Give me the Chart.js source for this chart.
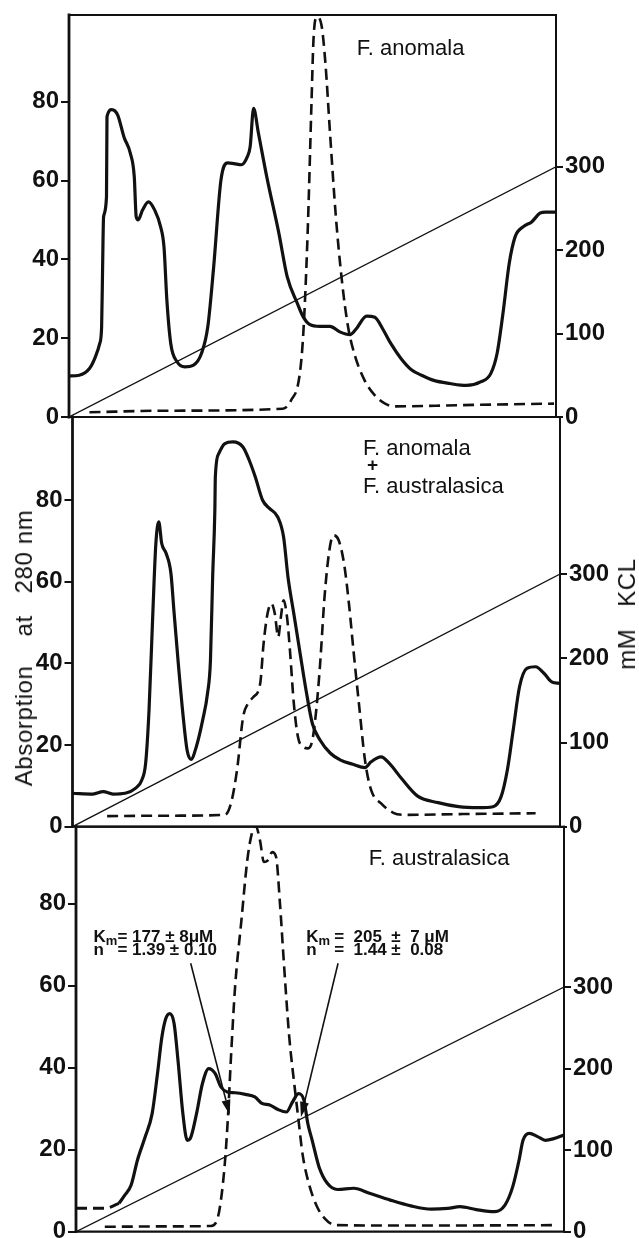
<!DOCTYPE html>
<html>
<head>
<meta charset="utf-8">
<script src="https://cdn.jsdelivr.net/npm/chart.js@4.4.1/dist/chart.umd.min.js"></script>
<style>
  body{margin:0;background:#fff;width:639px;height:1238px;overflow:hidden;position:relative;font-family:"Liberation Sans",Arial,sans-serif;color:#111;}
  canvas{position:absolute;left:0;}
  .vtitle{position:absolute;white-space:pre;font-size:24px;letter-spacing:0.6px;transform:translate(-50%,-50%) rotate(-90deg);}
</style>
</head>
<body>
<canvas id="p1" width="639" height="440" style="top:0px"></canvas>
<canvas id="p2" width="639" height="445" style="top:400px"></canvas>
<canvas id="p3" width="639" height="450" style="top:806px"></canvas>
<div class="vtitle" style="left:24px;top:648px">Absorption    at   280 nm</div>
<div class="vtitle" style="left:627px;top:614px">mM   KCL</div>
<script>
// tick values
const LEFT_TICKS = [0, 20, 40, 60, 80];
const RIGHT_TICKS = [0, 100, 200, 300];

// salt gradient (mM KCl), fraction position 0..100
const GRAD_X = [0, 100];
const GRAD_MM = [0, 300];

// panel 1 : F. anomala
const p1SolidX = [0, 2.1, 4.2, 5.4, 6.3, 6.7, 6.9, 7.1, 7.7, 7.8, 8.8, 10, 11.3, 12.6, 13.4, 13.8, 14.2, 15.1, 16.3, 17.6, 18.8, 19.5, 20.1, 20.9, 22.2, 23.8, 25.5, 27.2, 28.5, 29.7, 31.2, 32.6, 33.9, 35.4, 36.6, 37.2, 37.9, 38.9, 40.6, 43.1, 44.8, 46.9, 48.1, 49.4, 51.5, 53.6, 55.6, 57.7, 59, 61.1, 62.8, 64.4, 66.1, 68.2, 70.3, 72.4, 74.9, 78.2, 81.6, 84.5, 86.6, 87.9, 89.1, 90.4, 91.6, 93.3, 95, 96.7, 97.9, 100];
const p1SolidY = [10.4, 10.6, 12.3, 15.2, 18.6, 22.9, 38, 50.8, 55.9, 76.2, 78, 76.6, 71, 66.9, 61, 50.8, 50, 52.5, 54.6, 52.5, 48.3, 43.2, 29.6, 18.6, 14, 12.7, 13.1, 16.1, 22.9, 38, 60.1, 64.5, 64.3, 64, 66, 68.6, 78.3, 72, 61, 46.6, 35.6, 28.8, 25.4, 23.5, 23, 23, 21.6, 20.9, 22.4, 25.6, 25.3, 22.4, 18.6, 14.8, 12, 10.6, 9.3, 8.5, 8, 8.9, 11, 16.1, 26.2, 39, 45.7, 48.3, 49.5, 51.7, 52, 52];
const p1DashX = [4.2, 20, 43.9, 45.6, 47.3, 48.1, 49, 49.8, 50.2, 50.9, 51.9, 52.7, 53.6, 54.8, 56.1, 57.3, 58.6, 60.7, 62.8, 64.9, 66.9, 80, 99.6];
const p1DashY = [1.2, 1.6, 2.1, 4.2, 10.2, 21, 46.6, 80, 95.7, 101.5, 99, 89, 72, 50.8, 33.9, 22.9, 16, 9.3, 5.5, 3.4, 2.7, 3, 3.4];

// panel 2 : F. anomala + F. australasica
const p2SolidX = [0, 4.2, 6.3, 8.3, 10.8, 12.9, 14.2, 15, 15.7, 16.5, 17.1, 17.7, 18.3, 19.2, 20.2, 20.8, 21.7, 22.7, 23.5, 24.3, 25.4, 26.7, 27.7, 28.3, 28.75, 29.2, 29.3, 30, 31.25, 32.9, 35, 36.25, 37.5, 39, 40.4, 42.1, 43.3, 44.2, 45.4, 46.7, 47.9, 49.2, 50.8, 52.9, 55, 57.5, 60, 61.25, 63.3, 65, 67.5, 70.8, 75, 79.2, 83.3, 86.25, 87.9, 89.2, 90.4, 91.7, 93.2, 95, 96.7, 98.3, 100];
const p2SolidY = [8.2, 8, 8.6, 8, 8.2, 9.4, 11.4, 15.5, 28.6, 53, 69.4, 74.7, 69.4, 67, 62, 53, 40, 27, 18.8, 16.5, 19.6, 26.1, 32.7, 40.8, 61.2, 77.6, 85.7, 91.4, 93.9, 94.3, 93, 89.8, 85.7, 80, 78, 75.9, 71, 61.2, 52.2, 42.4, 33.5, 25.3, 21.2, 18, 16.3, 15.3, 14.5, 15.9, 17.1, 15.5, 11.8, 7.5, 5.9, 4.9, 4.65, 4.9, 7.3, 13.9, 23.7, 34.3, 38.8, 39.2, 37.6, 35.5, 35.1];
const p2DashX = [7.1, 20, 31.25, 32.5, 33.75, 35, 36, 37.1, 38.5, 39.2, 40, 40.8, 41.5, 42.2, 42.75, 43.3, 44, 44.6, 45.4, 46.25, 47.3, 48.3, 49.2, 50, 50.8, 51.7, 52.7, 53.5, 54.6, 55.7, 56.7, 57.7, 58.75, 60, 61.25, 63.3, 65.8, 68.3, 80, 95];
const p2DashY = [2.6, 2.7, 2.9, 5.7, 13.9, 26.9, 30.2, 31.8, 35.1, 44.9, 52.2, 54.7, 52.2, 46.5, 51.4, 55.5, 51.4, 43.3, 30.2, 22, 19.6, 19.2, 21.2, 28.6, 40, 56.3, 67.8, 71.4, 70.2, 64.5, 54.7, 42.4, 30.2, 16.3, 9, 5.7, 3.4, 2.9, 3.1, 3.3];

// panel 3 : F. australasica
const p3LeadX = [0, 6, 8.8];
const p3LeadY = [5.7, 5.7, 6.9];
const p3SolidX = [8.8, 10, 11.3, 12.6, 14.2, 15.6, 16.7, 17.6, 18.4, 19.2, 20.1, 20.9, 21.9, 22.8, 23.4, 24.7, 25.9, 27.2, 28.5, 29.7, 31, 32.6, 34.7, 36.65, 38.1, 39.7, 41.4, 43.1, 44.4, 45.6, 46.7, 47.5, 48.4, 49.8, 51.5, 53.6, 56.9, 60.3, 64.4, 68.6, 72.8, 76.2, 78.7, 82, 85.8, 87.9, 89.5, 90.8, 91.6, 92.9, 94.6, 96.2, 97.9, 100];
const p3SolidY = [6.9, 8.9, 11.4, 17.5, 23.2, 28.8, 38.6, 47.5, 52, 53.2, 50.8, 41.8, 28.8, 22.3, 22.7, 28.8, 36.1, 39.8, 38.6, 35.3, 34.1, 33.9, 33.5, 32.9, 31.3, 30.9, 29.8, 29.2, 31.7, 33.7, 32.1, 26.4, 22.3, 15.8, 11.8, 10.3, 10.6, 9.3, 7.7, 6.3, 5.5, 5.7, 6.1, 5.4, 4.9, 6.5, 11, 17.5, 22.3, 24, 23.2, 22.3, 22.7, 23.6];
const p3DashX = [5.9, 20, 27.6, 28.9, 29.7, 30.5, 31.1, 31.8, 32.6, 33.9, 35.1, 36, 36.8, 37.7, 38.5, 39.3, 40.2, 41, 41.8, 42.7, 43.7, 44.8, 45.6, 46.4, 47.7, 49.4, 51, 53.1, 70, 98.7];
const p3DashY = [1.2, 1.3, 1.4, 2.8, 7.7, 16.7, 27.2, 43.5, 59.7, 76, 90.6, 97, 99, 95.5, 90.2, 90.6, 92.6, 91.4, 80, 63.8, 47.5, 35.3, 27.2, 19.1, 11.8, 6.1, 3.2, 1.6, 1.5, 1.6];

const FONT = "'Liberation Sans', Arial, sans-serif";
const TICK_FONT = "'Liberation Sans Narrow', 'Liberation Sans', Arial, sans-serif";
const INK = '#111';

const pts = (xs, ys) => xs.map((x, i) => ({x: x, y: ys[i]}));

function solid(xs, ys){
  return {data: pts(xs, ys), yAxisID: 'y', borderColor: INK, borderWidth: 3.2,
    pointRadius: 0, cubicInterpolationMode: 'monotone', fill: false};
}
function dashed(xs, ys, w){
  return {data: pts(xs, ys), yAxisID: 'y', borderColor: INK, borderWidth: w || 2.6,
    borderDash: [11, 6], pointRadius: 0, cubicInterpolationMode: 'monotone', fill: false};
}
function gradient(){
  return {data: pts(GRAD_X, GRAD_MM), yAxisID: 'y1', borderColor: INK, borderWidth: 1.3,
    pointRadius: 0, tension: 0, fill: false};
}

// box round the plot area
const framePlugin = {
  id: 'frame',
  afterDatasetsDraw(chart){
    const {ctx, chartArea: a} = chart;
    ctx.save();
    ctx.strokeStyle = INK;
    ctx.lineCap = 'square';
    const seg = (x1, y1, x2, y2, w) => { ctx.lineWidth = w; ctx.beginPath(); ctx.moveTo(x1, y1); ctx.lineTo(x2, y2); ctx.stroke(); };
    seg(a.left, a.top, a.right, a.top, 2);
    seg(a.left, a.bottom, a.right, a.bottom, 2.2);
    seg(a.left, a.top, a.left, a.bottom, 2.8);
    seg(a.right, a.top, a.right, a.bottom, 2);
    ctx.restore();
  }
};

function arrow(ctx, x1, y1, x2, y2){
  const ang = Math.atan2(y2 - y1, x2 - x1);
  const len = 15, half = 4.5;
  const bx = x2 - len * Math.cos(ang), by = y2 - len * Math.sin(ang);
  ctx.lineWidth = 1.6;
  ctx.beginPath(); ctx.moveTo(x1, y1); ctx.lineTo(bx, by); ctx.stroke();
  ctx.beginPath();
  ctx.moveTo(x2, y2);
  ctx.lineTo(bx + half * Math.sin(ang), by - half * Math.cos(ang));
  ctx.lineTo(bx - half * Math.sin(ang), by + half * Math.cos(ang));
  ctx.closePath(); ctx.fill();
}

function kmBlock(ctx, x, y, gap, line1, line2){
  ctx.font = 'bold 17px ' + TICK_FONT;
  ctx.fillText('K', x, y);
  const kw = ctx.measureText('K').width;
  ctx.font = 'bold 13px ' + TICK_FONT;
  ctx.fillText('m', x + kw, y + 3);
  const mw = ctx.measureText('m').width;
  ctx.font = 'bold 17px ' + TICK_FONT;
  const ex = x + kw + mw + gap;
  ctx.fillText(line1, ex, y);
  ctx.fillText('n', x, y + 13);
  ctx.fillText(line2, ex, y + 13);
}

function notesPlugin(draw){
  return {
    id: 'notes',
    afterDatasetsDraw(chart){
      const ctx = chart.ctx;
      const X = v => chart.scales.x.getPixelForValue(v);
      const Y = v => chart.scales.y.getPixelForValue(v);
      ctx.save();
      ctx.fillStyle = INK; ctx.strokeStyle = INK;
      ctx.textBaseline = 'alphabetic';
      draw(ctx, X, Y);
      ctx.restore();
    }
  };
}

function panel(id, canvasTop, canvasH, box, yMax, y1Max, datasets, draw){
  const tickFont = {family: TICK_FONT, size: 24, weight: 'bold'};
  return new Chart(document.getElementById(id), {
    type: 'line',
    data: {datasets: datasets},
    options: {
      responsive: false, animation: false, events: [],
      layout: {padding: {top: box.top - canvasTop, bottom: canvasTop + canvasH - box.bottom, left: 0, right: 0}},
      plugins: {legend: {display: false}, tooltip: {enabled: false}},
      scales: {
        x: {type: 'linear', min: 0, max: 100, display: false},
        y: {
          position: 'left', min: 0, max: yMax,
          afterBuildTicks: s => { s.ticks = LEFT_TICKS.map(v => ({value: v})); },
          afterFit: s => { s.width = box.left; s.paddingTop = 0; s.paddingBottom = 0; },
          grid: {drawOnChartArea: false, color: INK, lineWidth: 2, tickLength: 8},
          border: {display: false},
          ticks: {color: INK, font: tickFont, padding: 2}
        },
        y1: {
          position: 'right', min: 0, max: y1Max,
          afterBuildTicks: s => { s.ticks = RIGHT_TICKS.map(v => ({value: v})); },
          afterFit: s => { s.width = 639 - box.right; s.paddingTop = 0; s.paddingBottom = 0; },
          grid: {drawOnChartArea: false, color: INK, lineWidth: 2, tickLength: 7},
          border: {display: false},
          ticks: {color: INK, font: tickFont, padding: 2}
        }
      }
    },
    plugins: [framePlugin, notesPlugin(draw)]
  });
}

const titleFont = '22px ' + FONT;

panel('p1', 0, 440, {left: 69, right: 556, top: 15, bottom: 417}, 102, 482,
  [solid(p1SolidX, p1SolidY), dashed(p1DashX, p1DashY), gradient()],
  (ctx, X, Y) => {
    ctx.font = titleFont;
    ctx.fillText('F. anomala', X(59.1), Y(91.9));
  });

panel('p2', 400, 445, {left: 72.5, right: 560, top: 417, bottom: 826.7}, 100.4, 486.6,
  [solid(p2SolidX, p2SolidY), dashed(p2DashX, p2DashY), gradient()],
  (ctx, X, Y) => {
    ctx.font = titleFont;
    ctx.fillText('F. anomala', X(59.6), Y(91.1));
    ctx.font = 'bold 19px ' + FONT;
    ctx.fillText('+', X(60.4), Y(87.1));
    ctx.font = titleFont;
    ctx.fillText('F. australasica', X(59.6), Y(81.8));
  });

panel('p3', 806, 450, {left: 76, right: 564, top: 826.7, bottom: 1231.7}, 98.8, 496.5,
  [dashed(p3LeadX, p3LeadY, 3), solid(p3SolidX, p3SolidY), dashed(p3DashX, p3DashY), gradient()],
  (ctx, X, Y) => {
    ctx.font = titleFont;
    ctx.fillText('F. australasica', X(60), Y(89.4));
    kmBlock(ctx, X(3.6), Y(70.6), 0, '= 177 \u00b1 8\u03bcM', '= 1.39 \u00b1 0.10');
    kmBlock(ctx, X(47.2), Y(70.6), 4, '=  205  \u00b1  7 \u03bcM', '=  1.44 \u00b1  0.08');
    arrow(ctx, X(23.5), Y(65.5), X(31.5), Y(28.5));
    arrow(ctx, X(53.7), Y(65.5), X(46.1), Y(28));
  });
</script>
</body>
</html>
